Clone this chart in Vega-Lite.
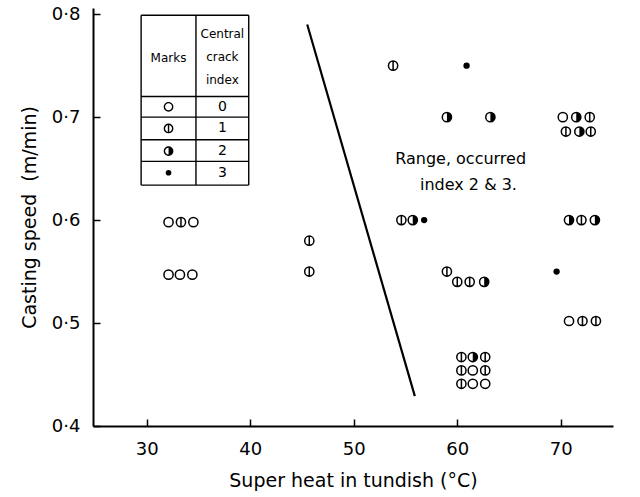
{
  "$schema": "https://vega.github.io/schema/vega-lite/v6.json",
  "width": 520,
  "height": 418,
  "autosize": "none",
  "padding": {"left": 93, "top": 8, "right": 27, "bottom": 71},
  "background": "white",
  "config": {
    "view": {"stroke": null},
    "font": "DejaVu Sans",
    "axis": {
      "grid": false,
      "domainColor": "black",
      "domainWidth": 2,
      "tickColor": "black",
      "tickWidth": 1.5,
      "labelColor": "black",
      "labelFont": "DejaVu Sans",
      "labelFontSize": 18,
      "titleColor": "black",
      "titleFont": "DejaVu Sans",
      "titleFontWeight": "normal"
    }
  },
  "datasets": {
    "points": [
      {"x": 32.1, "y": 0.598, "index": 0},
      {"x": 33.3, "y": 0.598, "index": 1},
      {"x": 34.5, "y": 0.598, "index": 0},
      {"x": 32.1, "y": 0.547, "index": 0},
      {"x": 33.2, "y": 0.547, "index": 0},
      {"x": 34.4, "y": 0.547, "index": 0},
      {"x": 45.7, "y": 0.58, "index": 1},
      {"x": 45.7, "y": 0.55, "index": 1},
      {"x": 53.8, "y": 0.75, "index": 1},
      {"x": 60.9, "y": 0.75, "index": 3},
      {"x": 59.0, "y": 0.70, "index": 2},
      {"x": 63.2, "y": 0.70, "index": 2},
      {"x": 70.2, "y": 0.70, "index": 0},
      {"x": 71.5, "y": 0.70, "index": 2},
      {"x": 72.8, "y": 0.70, "index": 1},
      {"x": 70.5, "y": 0.686, "index": 1},
      {"x": 71.8, "y": 0.686, "index": 2},
      {"x": 72.9, "y": 0.686, "index": 1},
      {"x": 54.6, "y": 0.60, "index": 1},
      {"x": 55.7, "y": 0.60, "index": 2},
      {"x": 56.8, "y": 0.60, "index": 3},
      {"x": 70.8, "y": 0.60, "index": 2},
      {"x": 72.0, "y": 0.60, "index": 1},
      {"x": 73.3, "y": 0.60, "index": 2},
      {"x": 59.0, "y": 0.55, "index": 1},
      {"x": 60.0, "y": 0.54, "index": 1},
      {"x": 61.2, "y": 0.54, "index": 1},
      {"x": 62.6, "y": 0.54, "index": 2},
      {"x": 69.6, "y": 0.55, "index": 3},
      {"x": 70.8, "y": 0.502, "index": 0},
      {"x": 72.1, "y": 0.502, "index": 1},
      {"x": 73.4, "y": 0.502, "index": 1},
      {"x": 60.4, "y": 0.467, "index": 1},
      {"x": 61.5, "y": 0.467, "index": 2},
      {"x": 62.7, "y": 0.467, "index": 1},
      {"x": 60.4, "y": 0.454, "index": 1},
      {"x": 61.5, "y": 0.454, "index": 0},
      {"x": 62.7, "y": 0.454, "index": 1},
      {"x": 60.4, "y": 0.441, "index": 1},
      {"x": 61.5, "y": 0.441, "index": 0},
      {"x": 62.7, "y": 0.441, "index": 0}
    ],
    "boundary": [
      {"x": 45.5, "y": 0.79},
      {"x": 55.9, "y": 0.429}
    ],
    "note": [
      {"text": "Range, occurred", "x": 54.0, "y": 0.659},
      {"text": "index 2 & 3.", "x": 56.4, "y": 0.634}
    ],
    "keyRows": [
      {"index": 0, "label": "0", "y": 0.710},
      {"index": 1, "label": "1", "y": 0.689},
      {"index": 2, "label": "2", "y": 0.667},
      {"index": 3, "label": "3", "y": 0.646}
    ],
    "keyHeader": [
      {"text": "Marks", "x": 32.1, "y": 0.757},
      {"text": "Central", "x": 37.3, "y": 0.781},
      {"text": "crack", "x": 37.3, "y": 0.758},
      {"text": "index", "x": 37.3, "y": 0.736}
    ],
    "keyHLines": [
      {"y": 0.799}, {"y": 0.720}, {"y": 0.700}, {"y": 0.678}, {"y": 0.657}, {"y": 0.634}
    ],
    "keyVLines": [
      {"x": 29.45}, {"x": 34.75}, {"x": 39.85}
    ]
  },
  "encoding": {
    "x": {
      "type": "quantitative",
      "scale": {"domain": [24.8, 75.05], "nice": false, "zero": false},
      "axis": {
        "title": "Super heat in tundish (°C)",
        "titleFontSize": 19,
        "titlePadding": 13,
        "values": [30, 40, 50, 60, 70],
        "tickSize": -7,
        "labelPadding": 21,
        "labelFlush": false
      }
    },
    "y": {
      "type": "quantitative",
      "scale": {"domain": [0.4, 0.806], "nice": false, "zero": false},
      "axis": {
        "title": "Casting speed\u00a0 (m/min)",
        "titleFontSize": 19,
        "titlePadding": 12,
        "values": [0.4, 0.5, 0.6, 0.7, 0.8],
        "tickSize": -7,
        "labelPadding": 20,
        "labelFlush": false,
        "labelExpr": "replace(format(datum.value, '.1f'), '.', '·')"
      }
    }
  },
  "layer": [
    {
      "data": {"name": "keyHLines"},
      "mark": {"type": "rule", "color": "black", "strokeWidth": 1.4},
      "encoding": {
        "x": {"datum": 29.45, "type": "quantitative"},
        "x2": {"datum": 39.85},
        "y": {"field": "y", "type": "quantitative"}
      }
    },
    {
      "data": {"name": "keyVLines"},
      "mark": {"type": "rule", "color": "black", "strokeWidth": 1.4},
      "encoding": {
        "x": {"field": "x", "type": "quantitative"},
        "y": {"datum": 0.634, "type": "quantitative"},
        "y2": {"datum": 0.799}
      }
    },
    {
      "data": {"name": "keyHeader"},
      "mark": {"type": "text", "fontSize": 12, "color": "black", "align": "center", "baseline": "middle"},
      "encoding": {
        "x": {"field": "x", "type": "quantitative"},
        "y": {"field": "y", "type": "quantitative"},
        "text": {"field": "text"}
      }
    },
    {
      "data": {"name": "keyRows"},
      "mark": {"type": "text", "fontSize": 14, "color": "black", "align": "center", "baseline": "middle"},
      "encoding": {
        "x": {"datum": 37.3, "type": "quantitative"},
        "y": {"field": "y", "type": "quantitative"},
        "text": {"field": "label"}
      }
    },
    {
      "data": {"name": "keyRows"},
      "transform": [{"filter": "datum.index != 3"}],
      "mark": {"type": "point", "shape": "circle", "filled": false, "stroke": "black", "strokeWidth": 1.4, "size": 70, "opacity": 1},
      "encoding": {
        "x": {"datum": 32.1, "type": "quantitative"},
        "y": {"field": "y", "type": "quantitative"}
      }
    },
    {
      "data": {"name": "keyRows"},
      "transform": [{"filter": "datum.index == 1"}],
      "mark": {"type": "point", "shape": "M0,-1L0,1", "filled": false, "stroke": "black", "strokeWidth": 1.4, "size": 70, "opacity": 1},
      "encoding": {
        "x": {"datum": 32.1, "type": "quantitative"},
        "y": {"field": "y", "type": "quantitative"}
      }
    },
    {
      "data": {"name": "keyRows"},
      "transform": [{"filter": "datum.index == 2"}],
      "mark": {"type": "point", "shape": "M0,-1A1,1 0 0,1 0,1Z", "filled": true, "fill": "black", "strokeWidth": 0, "size": 70, "opacity": 1},
      "encoding": {
        "x": {"datum": 32.1, "type": "quantitative"},
        "y": {"field": "y", "type": "quantitative"}
      }
    },
    {
      "data": {"name": "keyRows"},
      "transform": [{"filter": "datum.index == 3"}],
      "mark": {"type": "point", "shape": "circle", "filled": true, "fill": "black", "strokeWidth": 0, "size": 32, "opacity": 1},
      "encoding": {
        "x": {"datum": 32.1, "type": "quantitative"},
        "y": {"field": "y", "type": "quantitative"}
      }
    },
    {
      "data": {"name": "boundary"},
      "mark": {"type": "line", "color": "black", "strokeWidth": 2.2},
      "encoding": {
        "x": {"field": "x", "type": "quantitative"},
        "y": {"field": "y", "type": "quantitative"}
      }
    },
    {
      "data": {"name": "note"},
      "mark": {"type": "text", "fontSize": 16, "color": "black", "align": "left", "baseline": "middle"},
      "encoding": {
        "x": {"field": "x", "type": "quantitative"},
        "y": {"field": "y", "type": "quantitative"},
        "text": {"field": "text"}
      }
    },
    {
      "data": {"name": "points"},
      "transform": [{"filter": "datum.index != 3"}],
      "mark": {"type": "point", "shape": "circle", "filled": false, "stroke": "black", "strokeWidth": 1.5, "size": 85, "opacity": 1},
      "encoding": {
        "x": {"field": "x", "type": "quantitative"},
        "y": {"field": "y", "type": "quantitative"}
      }
    },
    {
      "data": {"name": "points"},
      "transform": [{"filter": "datum.index == 1"}],
      "mark": {"type": "point", "shape": "M0,-1L0,1", "filled": false, "stroke": "black", "strokeWidth": 1.5, "size": 85, "opacity": 1},
      "encoding": {
        "x": {"field": "x", "type": "quantitative"},
        "y": {"field": "y", "type": "quantitative"}
      }
    },
    {
      "data": {"name": "points"},
      "transform": [{"filter": "datum.index == 2"}],
      "mark": {"type": "point", "shape": "M0,-1A1,1 0 0,1 0,1Z", "filled": true, "fill": "black", "strokeWidth": 0, "size": 85, "opacity": 1},
      "encoding": {
        "x": {"field": "x", "type": "quantitative"},
        "y": {"field": "y", "type": "quantitative"}
      }
    },
    {
      "data": {"name": "points"},
      "transform": [{"filter": "datum.index == 3"}],
      "mark": {"type": "point", "shape": "circle", "filled": true, "fill": "black", "strokeWidth": 0, "size": 40, "opacity": 1},
      "encoding": {
        "x": {"field": "x", "type": "quantitative"},
        "y": {"field": "y", "type": "quantitative"}
      }
    }
  ]
}
